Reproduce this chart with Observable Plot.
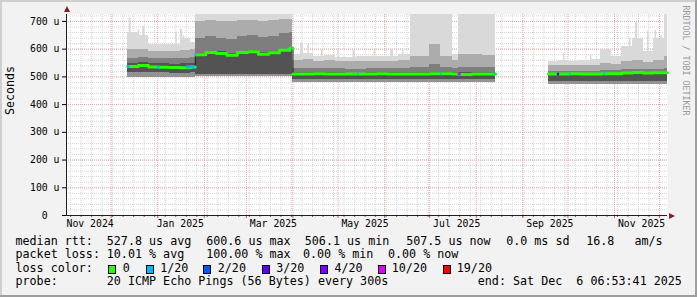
<!DOCTYPE html>
<html>
<head>
<meta charset="utf-8">
<script src="https://cdn.jsdelivr.net/npm/d3@7"></script>
<script src="https://cdn.jsdelivr.net/npm/@observablehq/plot@0.6"></script>
<style>
  html, body { margin: 0; padding: 0; background: #f2f2f2; }
  #wrap { position: relative; width: 697px; height: 297px; background: #f2f2f2; overflow: hidden;
          font-family: "DejaVu Sans Mono", monospace; color: #000; }
  #wrap svg { position: absolute; left: 0; top: 0; }
  .edge { position: absolute; }
  .t { position: absolute; font-size: 11.7px; line-height: 13px; white-space: pre; }
  .sw { position: absolute; box-sizing: border-box; width: 8px; height: 9px; border: 1px solid #000; }
</style>
</head>
<body>
<div id="wrap"></div>
<script>
// ---------------- data ----------------
const startTime = "2024-11-01T06:53:41Z";
const endTime = "2025-12-06T06:53:41Z";

const yTicks = [0, 100, 200, 300, 400, 500, 600, 700];
const yTickLabels = ["0\u00a0\u00a0", "100 u", "200 u", "300 u", "400 u", "500 u", "600 u", "700 u"];
const xLabelDates = ["2024-11-17", "2025-01-16", "2025-03-19", "2025-05-19", "2025-07-19", "2025-09-19", "2025-11-19"];
const xTickLabels = ["Nov 2024", "Jan 2025", "Mar 2025", "May 2025", "Jul 2025", "Sep 2025", "Nov 2025"];

const bucketStart = [
  "2024-12-12","2024-12-19","2024-12-26","2025-01-02","2025-01-09","2025-01-16","2025-01-23",
  "2025-01-26","2025-02-02","2025-02-09","2025-02-16","2025-02-23","2025-03-02","2025-03-09","2025-03-16","2025-03-23","2025-03-30",
  "2025-04-01","2025-04-08","2025-04-15","2025-04-22","2025-04-29","2025-05-06","2025-05-13","2025-05-20","2025-05-27","2025-06-03","2025-06-10","2025-06-18","2025-07-01","2025-07-08","2025-07-16","2025-07-20","2025-07-29","2025-08-05",
  "2025-09-18","2025-09-25","2025-10-02","2025-10-09","2025-10-16","2025-10-23","2025-10-30","2025-11-06","2025-11-13","2025-11-20","2025-11-27","2025-12-04"
];
const bucketEnd = [
  "2024-12-19","2024-12-26","2025-01-02","2025-01-09","2025-01-16","2025-01-23","2025-01-26",
  "2025-02-02","2025-02-09","2025-02-16","2025-02-23","2025-03-02","2025-03-09","2025-03-16","2025-03-23","2025-03-30","2025-04-01",
  "2025-04-08","2025-04-15","2025-04-22","2025-04-29","2025-05-06","2025-05-13","2025-05-20","2025-05-27","2025-06-03","2025-06-10","2025-06-18","2025-07-01","2025-07-08","2025-07-16","2025-07-20","2025-07-29","2025-08-05","2025-08-14",
  "2025-09-25","2025-10-02","2025-10-09","2025-10-16","2025-10-23","2025-10-30","2025-11-06","2025-11-13","2025-11-20","2025-11-27","2025-12-04","2025-12-06T06:53:41Z"
];
const bucketSeg = [
  1,1,1,1,1,1,1,
  2,2,2,2,2,2,2,2,2,2,
  3,3,3,3,3,3,3,3,3,3,3,3,3,3,3,3,3,3,
  4,4,4,4,4,4,4,4,4,4,4,4
];
// smoke layers (µs): lowest ping … highest ping
const smokeMin = [
  497,497,496,497,496,496,497,
  500,500,500,500,500,500,500,500,500,500,
  480,480,481,480,480,480,480,480,480,480,480,480,480,480,480,480,480,480,
  474,474,474,474,474,474,474,474,474,474,474,474
];
const smokeCoreLow = [
  514,515,514,515,513,513,514,
  510,510,510,510,510,510,510,510,510,510,
  490,490,490,490,490,490,490,490,490,490,490,490,490,490,490,490,490,490,
  484,484,484,484,484,484,484,484,485,485,485,485
];
const smokeCoreHigh = [
  550,553,548,548,546,548,550,
  586,592,590,585,592,595,588,592,600,606,
  514,514,515,514,514,513,513,514,514,514,514,515,516,515,514,515,515,515,
  507,507,507,507,507,508,508,509,510,509,509,510
];
const smokeMid = [
  568,570,566,566,565,567,570,
  640,645,640,636,645,648,642,646,655,660,
  530,532,530,530,530,528,528,530,530,530,532,535,545,535,530,535,535,535,
  520,520,520,520,521,524,522,526,528,526,528,532
];
const smokeUpper = [
  598,600,590,590,590,595,598,
  700,702,698,698,702,704,700,702,706,708,
  558,562,556,558,555,555,556,555,555,556,560,575,615,575,560,580,580,578,
  540,540,540,540,542,548,545,555,560,552,560,575
];
const smokeMax = [
  660,650,615,615,615,640,625,
  724,724,724,724,724,724,724,724,724,724,
  580,585,575,578,570,570,575,572,572,575,580,724,724,724,580,724,724,724,
  556,558,555,558,562,600,575,610,640,590,640,724
];
const medianRtt = [
  537,541,536,535,534,533,536,
  580,588,584,578,588,591,582,587,596,603,
  510,510,511,510,510,510,510,510,511,510,510,510,511,511,510,509,510,510,
  510,510,511,510,510,511,511,514,516,514,515,515
];

// isolated high pings
const spikeDate = ["2024-12-13","2024-12-16","2024-12-19","2024-12-22","2025-01-13","2025-01-16","2025-01-18",
  "2025-04-06","2025-04-11","2025-04-20","2025-05-01","2025-05-11","2025-05-25","2025-06-05","2025-06-13",
  "2025-09-28","2025-10-16","2025-11-11","2025-11-15","2025-11-23","2025-11-28","2025-12-02"];
const spikeDays = [1.3,1,1,1.5,1,1.5,1, 2,1,1,1,1.5,1,2,1, 1,1,1,1.5,1,1,1];
const spikeTop = [712,660,670,682,662,672,650, 622,618,600,598,596,595,600,598, 585,578,640,695,665,668,650];

// packet loss episodes on the median line
const lossDate = ["2024-12-12","2025-01-01","2025-01-20","2025-01-26","2025-03-31","2025-05-14","2025-07-08","2025-07-20","2025-08-13","2025-09-24","2025-10-02","2025-10-25"];
const lossDays = [1.5,1.5,6,1,1,1,1,2,1,1.5,1,1];
const lossRtt = [537,535,536,580,603,510,511,510,510,510,510,511];
const lossLevel = ["1/20","1/20","1/20","1/20","1/20","1/20","1/20","10/20","1/20","3/20","1/20","1/20"];

const lossNames = ["0","1/20","2/20","3/20","4/20","10/20","19/20"];
const lossColors = ["#26ff00","#00b8ff","#0059ff","#5e00ff","#7e00ff","#dd00ff","#ff0000"];

const medianStats = ["median rtt:","527.8 us avg","600.6 us max","506.1 us min","507.5 us now","0.0 ms sd","16.8","am/s"];
const lossStats = ["packet loss:","10.01 % avg","100.00 % max","0.00 % min","0.00 % now"];
const probeText = ["probe:","20 ICMP Echo Pings (56 Bytes) every 300s","end: Sat Dec  6 06:53:41 2025"];
const watermark = "RRDTOOL / TOBI OETIKER";
const yLabel = "Seconds";

// ---------------- build ----------------
const X0 = new Date(startTime), X1 = new Date(endTime);
const DAY = 864e5;
const colorOf = new Map(lossNames.map((n, i) => [n, lossColors[i]]));
const yLabelMap = new Map(yTicks.map((v, i) => [v, yTickLabels[i]]));
const xLabelMap = new Map(xLabelDates.map((d, i) => [+new Date(d), xTickLabels[i]]));

const rows = bucketStart.map((s, i) => ({
  start: new Date(s), end: new Date(bucketEnd[i]), seg: bucketSeg[i],
  lo: smokeMin[i], b: smokeCoreLow[i], c: smokeCoreHigh[i], d: smokeMid[i], e: smokeUpper[i], hi: smokeMax[i], med: medianRtt[i]
}));
function stepPoints(key) {
  const pts = [];
  for (const [k, rs] of d3.groups(rows, key)) {
    for (const r of rs) pts.push({date: r.start, med: r.med, k});
    const last = rs[rs.length - 1];
    pts.push({date: last.end, med: last.med, k});
  }
  return pts;
}
const segPts = stepPoints(r => r.seg);
const runPts = stepPoints(r => (r.seg === 4 ? 2 : 1));

const spikes = spikeDate.map((s, i) => {
  const x1 = new Date(s);
  const host = rows.find(r => r.start <= x1 && x1 < r.end);
  return {x1, x2: new Date(+x1 + spikeDays[i] * DAY), top: spikeTop[i], base: host ? host.lo : spikeTop[i]};
});
const losses = lossDate.map((s, i) => ({
  date: new Date(s), end: new Date(+new Date(s) + lossDays[i] * DAY), rtt: lossRtt[i], color: colorOf.get(lossLevel[i])
}));

const arrowUp = {draw(ctx, size) { const h = Math.sqrt(size / Math.PI); ctx.moveTo(0, -h); ctx.lineTo(h * 0.85, h * 0.7); ctx.lineTo(-h * 0.85, h * 0.7); ctx.closePath(); }};
const arrowRight = {draw(ctx, size) { const h = Math.sqrt(size / Math.PI); ctx.moveTo(h, 0); ctx.lineTo(-h * 0.7, h * 0.85); ctx.lineTo(-h * 0.7, -h * 0.85); ctx.closePath(); }};

const minorGrid = {stroke: "#d4d4d4", strokeOpacity: 1, strokeDasharray: "1,1"};
const majorGrid = {stroke: "#e8a8a8", strokeOpacity: 1, strokeDasharray: "1,1"};
const band = (y1, y2, fill) => Plot.rect(rows, {x1: "start", x2: "end", y1, y2, fill, shapeRendering: "crispEdges"});

const plot = Plot.plot({
  width: 697, height: 232,
  marginLeft: 66, marginRight: 30, marginTop: 14, marginBottom: 17,
  style: {background: "transparent", fontFamily: "DejaVu Sans Mono, monospace", fontSize: "9.8px", color: "#000", overflow: "visible"},
  x: {type: "utc", domain: [X0, X1], axis: null},
  y: {domain: [0, 725], axis: null},
  color: {type: "identity"},
  marks: [
    Plot.frame({fill: "#ffffff", stroke: null}),
    Plot.gridY(d3.range(20, 725, 20), minorGrid),
    Plot.gridX(d3.utcMonday.range(X0, X1), minorGrid),
    Plot.gridY(yTicks.slice(1), majorGrid),
    Plot.gridX(d3.utcMonth.range(X0, X1), majorGrid),
    Plot.rect(spikes, {x1: "x1", x2: "x2", y1: "base", y2: "top", fill: "#d9d9d9"}),
    band("e", "hi", "#d9d9d9"),
    band("d", "e", "#acacac"),
    band("c", "d", "#7e7e7e"),
    band("b", "c", "#535353"),
    band("lo", "b", "#929292"),
    Plot.line(runPts, {x: "date", y: "med", z: "k", curve: "step-after", stroke: "#1a1a1a", strokeWidth: 1}),
    Plot.line(segPts, {x: "date", y: "med", z: "k", curve: "step-after", stroke: lossColors[0], strokeWidth: 3}),
    Plot.ruleY(losses, {x1: "date", x2: "end", y: "rtt", stroke: "color", strokeWidth: 3}),
    Plot.axisX(d3.utcMonday.range(X0, X1), {tickSize: 2, tickFormat: () => "", label: null, stroke: "#666"}),
    Plot.axisX(d3.utcMonth.range(X0, X1), {tickSize: 3, tickFormat: () => "", label: null, stroke: "#c06060"}),
    Plot.axisX(xLabelDates.map(d => new Date(d)), {tickSize: 0, tickPadding: 5, tickFormat: d => xLabelMap.get(+d), label: null}),
    Plot.axisY(yTicks, {tickSize: 4, tickPadding: 3, tickFormat: v => yLabelMap.get(v), label: null}),
    Plot.ruleY([0], {stroke: "#1f1f1f"}),
    Plot.ruleX([X0], {stroke: "#1f1f1f"}),
    Plot.dot([watermark], {frameAnchor: "top-left", dx: 0.5, dy: -5, symbol: arrowUp, r: 3.5, fill: "#801f1f", stroke: null}),
    Plot.dot([watermark], {frameAnchor: "bottom-right", dx: 4, dy: 0.5, symbol: arrowRight, r: 3.5, fill: "#801f1f", stroke: null}),
    Plot.text([yLabel], {frameAnchor: "left", dx: -56, rotate: -90, fontSize: 11.6, fill: "#000"}),
    Plot.text([watermark], {frameAnchor: "top-right", dx: 21, dy: -9, rotate: 90, textAnchor: "start", fill: "#9a9a9a", fontSize: 8.3})
  ]
});

const wrap = document.getElementById("wrap");
wrap.appendChild(plot);

function el(cls, css, text) {
  const e = document.createElement("div");
  e.className = cls;
  Object.assign(e.style, css);
  if (text != null) e.textContent = text;
  wrap.appendChild(e);
  return e;
}
// 3D frame of the rrdtool image
el("edge", {left: "0px", top: "0px", width: "697px", height: "2px", background: "#cfcfcf"});
el("edge", {left: "0px", top: "0px", width: "2px", height: "297px", background: "#cfcfcf"});
el("edge", {left: "0px", top: "295px", width: "697px", height: "2px", background: "#9e9e9e"});
el("edge", {left: "695px", top: "0px", width: "2px", height: "297px", background: "#9e9e9e"});

const line1X = [15.5, 106.8, 206.2, 304.8, 406.2, 506.2, 586.2, 634.5];
const line2X = [15.5, 106.8, 206.2, 303, 388];
const line4X = [15.5, 106.8, 477.8];
const boxX = [108.3, 145.7, 203.3, 261.7, 320, 378.3, 442.7];
const boxLabelX = [122.8, 160.2, 217.8, 276.2, 334.5, 391.8, 456.8];
const rowTop = [234.7, 248, 262, 275.3];

medianStats.forEach((s, i) => el("t", {left: line1X[i] + "px", top: rowTop[0] + "px"}, s));
lossStats.forEach((s, i) => el("t", {left: line2X[i] + "px", top: rowTop[1] + "px"}, s));
el("t", {left: "15.5px", top: rowTop[2] + "px"}, "loss color:");
lossNames.forEach((n, i) => {
  el("sw", {left: boxX[i] + "px", top: (rowTop[2] + 2.5) + "px", background: lossColors[i]});
  el("t", {left: boxLabelX[i] + "px", top: rowTop[2] + "px"}, n);
});
probeText.forEach((s, i) => el("t", {left: line4X[i] + "px", top: rowTop[3] + "px"}, s));
</script>
</body>
</html>
